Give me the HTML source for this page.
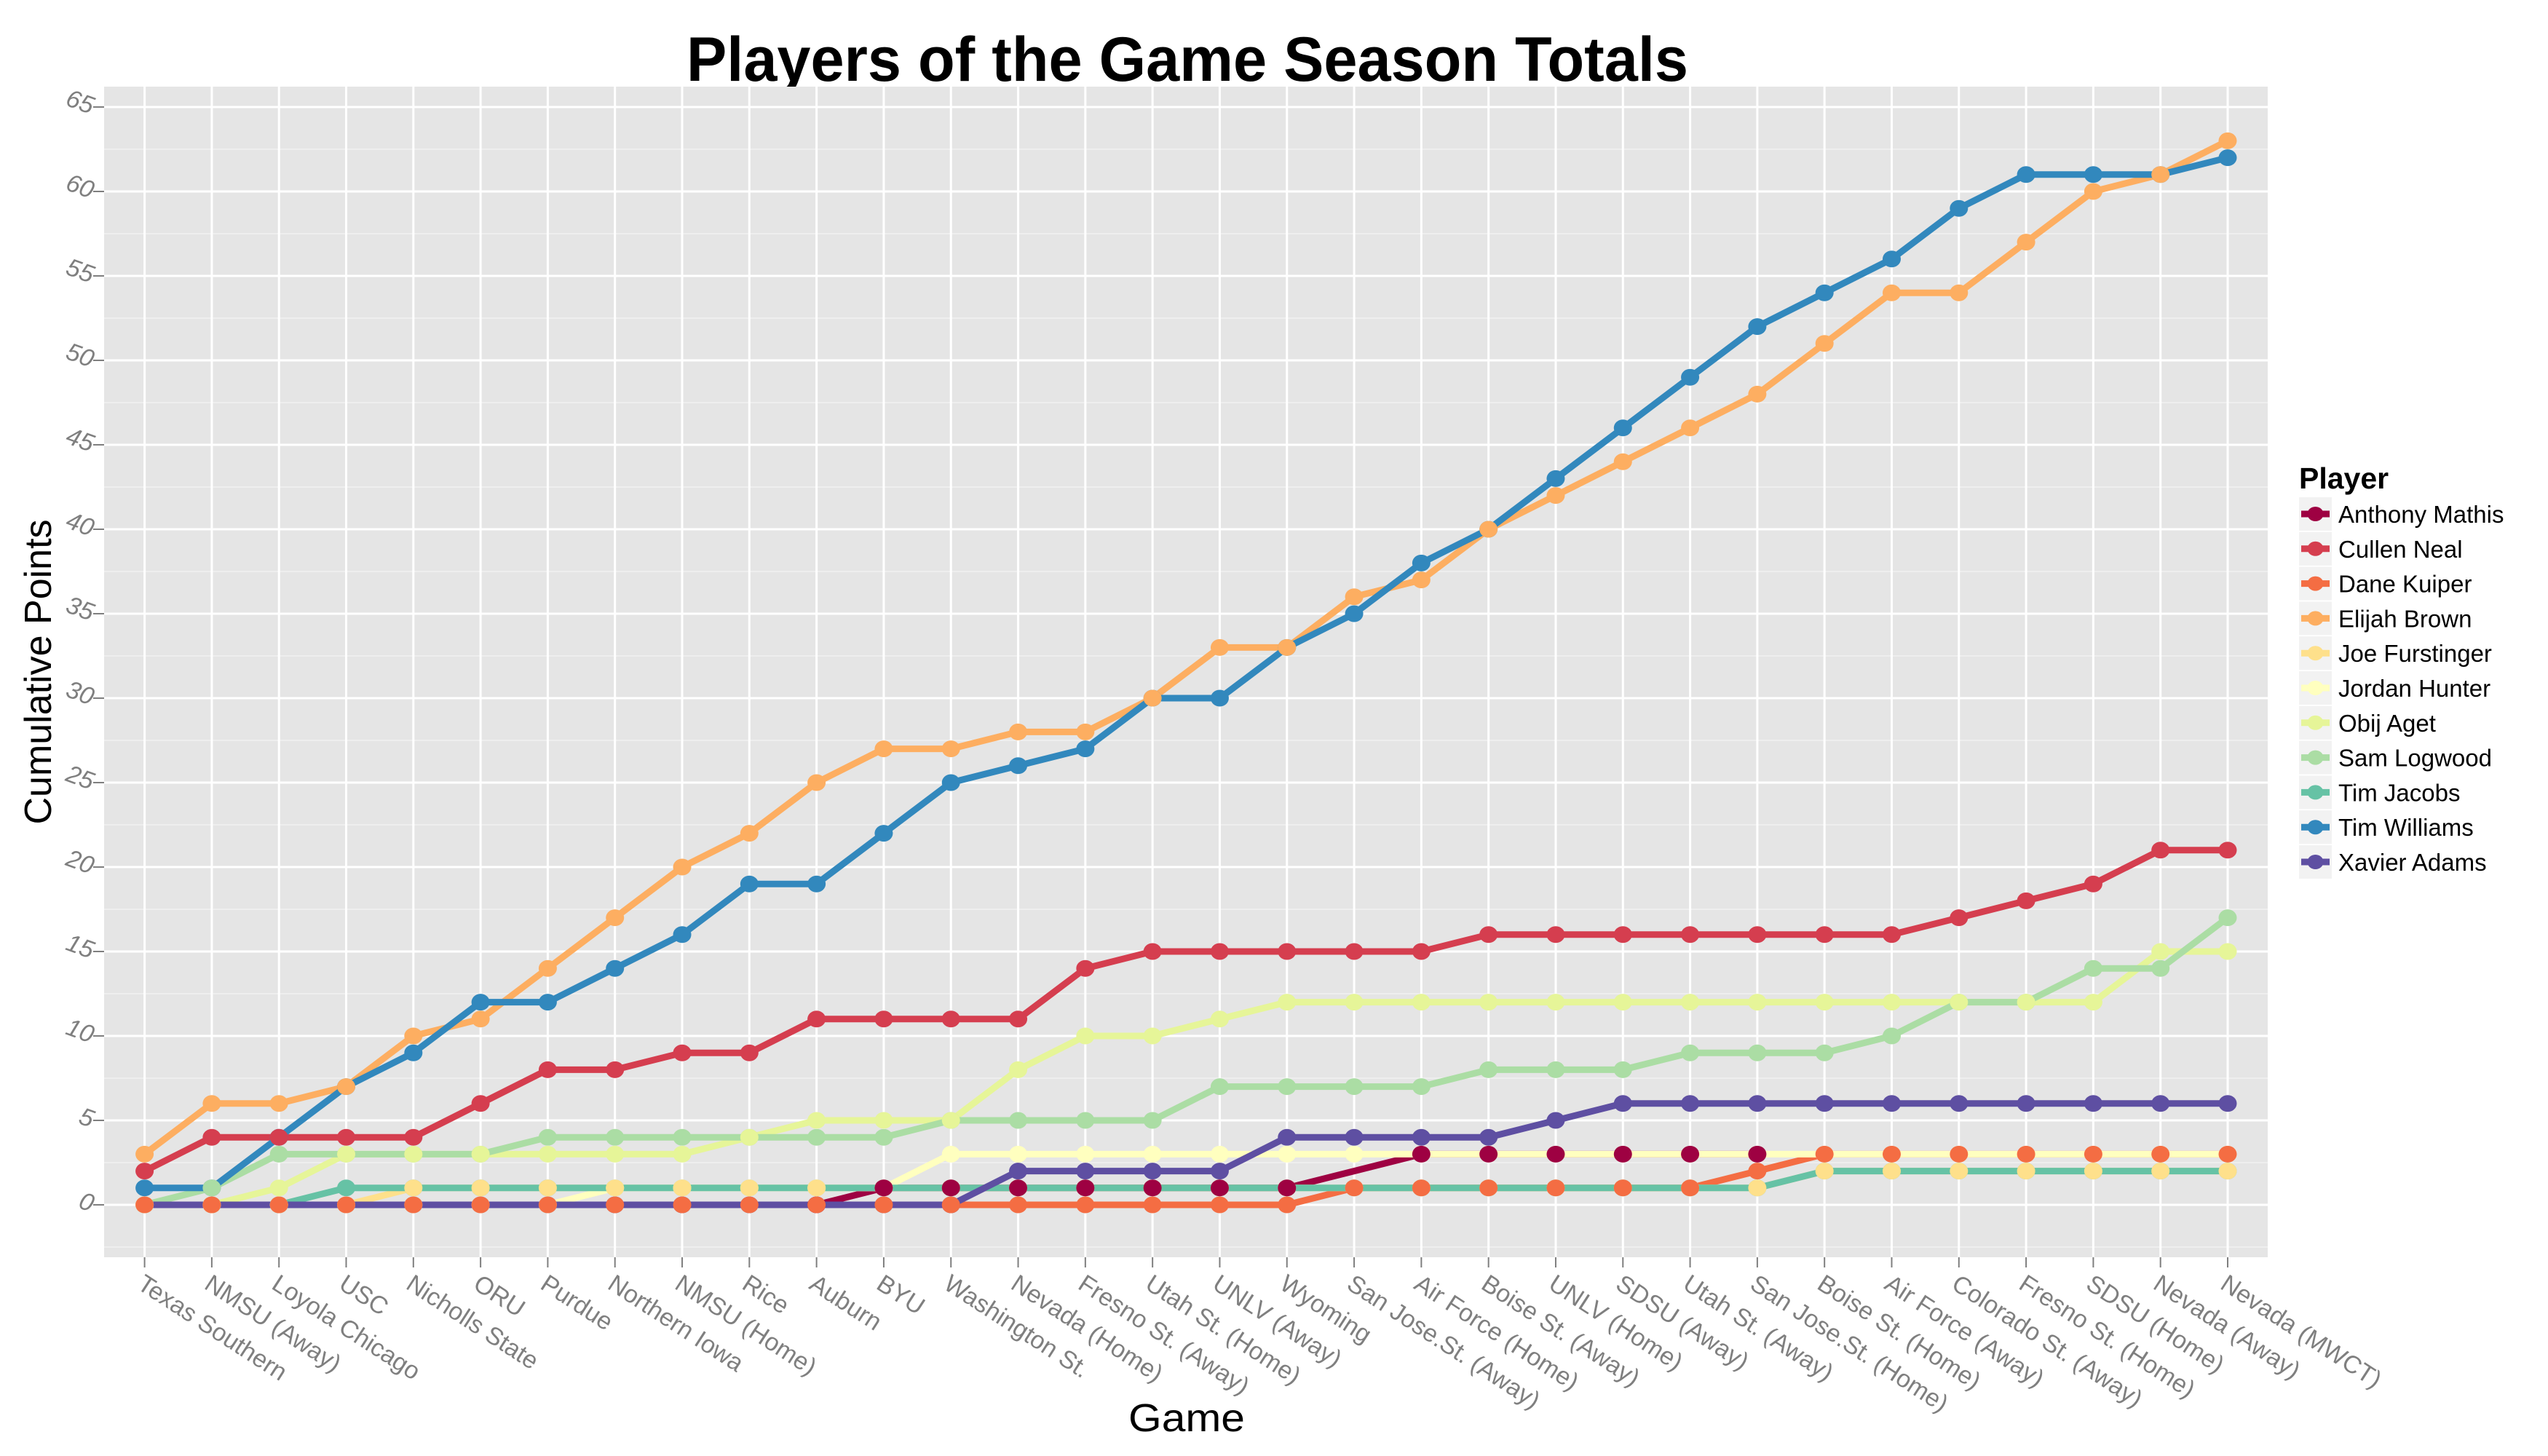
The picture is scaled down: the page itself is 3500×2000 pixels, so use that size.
<!DOCTYPE html>
<html><head><meta charset="utf-8"><style>
html,body{margin:0;padding:0;background:#fff;}
svg{display:block;font-family:"Liberation Sans",sans-serif;}
</style></head><body>
<svg id="chart" width="3500" height="2000" viewBox="0 0 3500 2000" xmlns="http://www.w3.org/2000/svg">
<rect x="0" y="0" width="3500" height="2000" fill="#ffffff"/>
<text x="943" y="111" font-size="86" font-weight="bold" textLength="1376" lengthAdjust="spacingAndGlyphs" fill="#000">Players of the Game Season Totals</text>
<rect x="143" y="119" width="2972" height="1608" fill="#e5e5e5"/>
<g id="grid"></g>
<g id="yaxis"></g>
<g id="xaxis"></g>
<g id="lines"></g>
<g id="points"></g>
<text transform="translate(70,923) rotate(-90)" text-anchor="middle" font-size="52" fill="#000">Cumulative Points</text>
<text x="1630" y="1966" text-anchor="middle" font-size="54" textLength="160" lengthAdjust="spacingAndGlyphs" fill="#000">Game</text>
<g id="legend">
<text x="3158" y="671" font-size="41" font-weight="bold" fill="#000">Player</text>
</g>
</svg>
<script>
const games = ["Texas Southern","NMSU (Away)","Loyola Chicago","USC","Nicholls State","ORU","Purdue","Northern Iowa","NMSU (Home)","Rice","Auburn","BYU","Washington St.","Nevada (Home)","Fresno St. (Away)","Utah St. (Home)","UNLV (Away)","Wyoming","San Jose.St. (Away)","Air Force (Home)","Boise St. (Away)","UNLV (Home)","SDSU (Away)","Utah St. (Away)","San Jose.St. (Home)","Boise St. (Home)","Air Force (Away)","Colorado St. (Away)","Fresno St. (Home)","SDSU (Home)","Nevada (Away)","Nevada (MWCT)"];
const players = ["Anthony Mathis","Cullen Neal","Dane Kuiper","Elijah Brown","Joe Furstinger","Jordan Hunter","Obij Aget","Sam Logwood","Tim Jacobs","Tim Williams","Xavier Adams"];
const colors = ["#9e0142","#d53e4f","#f46d43","#fdae61","#fee08b","#ffffbf","#e6f598","#abdda4","#66c2a5","#3288bd","#5e4fa2"];
const anthonyMathis = [null,null,null,null,null,null,null,null,null,null,0,1,1,1,1,1,1,1,null,3,3,3,3,3,3,null,null,null,null,null,null,null];
const cullenNeal = [2,4,4,4,4,6,8,8,9,9,11,11,11,11,14,15,15,15,15,15,16,16,16,16,16,16,16,17,18,19,21,21];
const daneKuiper = [0,0,0,0,0,0,0,0,0,0,0,0,0,0,0,0,0,0,1,1,1,1,1,1,2,3,3,3,3,3,3,3];
const elijahBrown = [3,6,6,7,10,11,14,17,20,22,25,27,27,28,28,30,33,33,36,37,40,42,44,46,48,51,54,54,57,60,61,63];
const joeFurstinger = [0,0,0,0,1,1,1,1,1,1,1,1,1,1,1,1,1,1,1,1,1,1,1,1,1,2,2,2,2,2,2,2];
const jordanHunter = [0,0,0,0,0,0,0,1,1,1,1,1,3,3,3,3,3,3,3,3,3,3,3,3,3,3,3,3,3,3,3,3];
const obijAget = [0,0,1,3,3,3,3,3,3,4,5,5,5,8,10,10,11,12,12,12,12,12,12,12,12,12,12,12,12,12,15,15];
const samLogwood = [0,1,3,3,3,3,4,4,4,4,4,4,5,5,5,5,7,7,7,7,8,8,8,9,9,9,10,12,12,14,14,17];
const timJacobs = [0,0,0,1,1,1,1,1,1,1,1,1,1,1,1,1,1,1,1,1,1,1,1,1,1,2,2,2,2,2,2,2];
const timWilliams = [1,1,4,7,9,12,12,14,16,19,19,22,25,26,27,30,30,33,35,38,40,43,46,49,52,54,56,59,61,61,61,62];
const xavierAdams = [0,0,0,0,0,0,0,0,0,0,0,0,0,2,2,2,2,4,4,4,4,5,6,6,6,6,6,6,6,6,6,6];
const yTicks = [0,5,10,15,20,25,30,35,40,45,50,55,60,65];
const series = [anthonyMathis,cullenNeal,daneKuiper,elijahBrown,joeFurstinger,jordanHunter,obijAget,samLogwood,timJacobs,timWilliams,xavierAdams];
const pointOrder = [10,9,8,7,6,5,4,3,1,0,2];

const NS="http://www.w3.org/2000/svg";
const PL=143, PR=3115, PT=119, PB=1727;
const Y0=1655, YPU=23.2;
const X0=198.6, XS=(3060-198.6)/31;
const xs = i => X0 + i*XS;
const ys = v => Y0 - v*YPU;
function mk(tag, attrs, parent){const e=document.createElementNS(NS,tag);for(const k in attrs)e.setAttribute(k,attrs[k]);parent.appendChild(e);return e;}

const grid=document.getElementById('grid');
for(let v=-2.5; v<=67.5; v+=5){const y=ys(v); if(y<PT||y>PB)continue;
  const l=mk('line',{x1:PL,x2:PR,y1:y,y2:y,stroke:'#f2f2f2','stroke-width':1.5},grid);
  
  }
yTicks.forEach(v=>{const y=ys(v);
  const l=mk('line',{x1:PL,x2:PR,y1:y,y2:y,stroke:'#ffffff','stroke-width':3},grid);
  
  });
games.forEach((g,i)=>{const x=xs(i);
  const l=mk('line',{x1:x,x2:x,y1:PT,y2:PB,stroke:'#ffffff','stroke-width':3},grid);
  
  });

const ya=document.getElementById('yaxis');
yTicks.forEach(v=>{const y=ys(v);
  mk('line',{x1:128,x2:PL,y1:y,y2:y,stroke:'#7f7f7f','stroke-width':2},ya);
  const t=mk('text',{x:0,y:0,transform:`translate(124,${y+10}) rotate(20)`,'text-anchor':'end','font-size':34,'font-style':'italic',fill:'#7f7f7f'},ya);
  t.textContent=v;
  
  });

const xa=document.getElementById('xaxis');
games.forEach((g,i)=>{const x=xs(i);
  mk('line',{x1:x,x2:x,y1:PB,y2:PB+14,stroke:'#7f7f7f','stroke-width':2},xa);
  const t=mk('text',{x:0,y:0,transform:`translate(${x-12},${PB+42}) rotate(33)`,'text-anchor':'start','font-size':34,fill:'#7f7f7f'},xa);
  t.textContent=g;
  
  });

const lg=document.getElementById('lines'), pg=document.getElementById('points');
series.forEach((s,k)=>{
  let d='', prevNull=true;
  s.forEach((v,i)=>{ if(v===null) return; d+=(prevNull?'M':'L')+xs(i).toFixed(1)+' '+ys(v).toFixed(1)+' '; prevNull=false; });
  const p=mk('path',{d:d,fill:'none',stroke:colors[k],'stroke-width':9,'stroke-linejoin':'round'},lg);
  
  
});
pointOrder.forEach(k=>{
  const s=series[k];
  s.forEach((v,i)=>{
    if(v===null) return;
    const c=mk('ellipse',{cx:xs(i),cy:ys(v),rx:12.5,ry:11.5,fill:colors[k]},pg);
    
    
  });
});

const leg=document.getElementById('legend');
players.forEach((p,k)=>{const y=683+k*47.8;
  const g=mk('g',{},leg);
  
  
  mk('rect',{x:3158,y:y,width:45,height:46,fill:'#f2f2f2'},g);
  mk('line',{x1:3161,x2:3200,y1:y+23,y2:y+23,stroke:colors[k],'stroke-width':9},g);
  mk('ellipse',{cx:3180.5,cy:y+23,rx:11,ry:10,fill:colors[k]},g);
  const t=mk('text',{x:3212,y:y+35,'font-size':33,fill:'#000'},g);
  t.textContent=p;
});
</script>
</body></html>
